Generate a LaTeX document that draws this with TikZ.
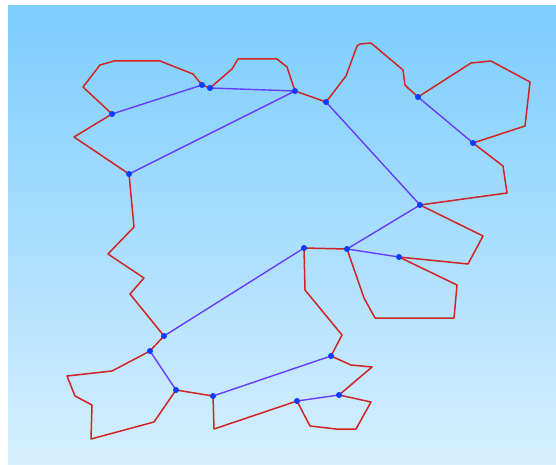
\documentclass[tikz,border=0pt]{standalone}
\definecolor{skytop}{RGB}{124,205,253}
\definecolor{skybot}{RGB}{214,239,255}
\definecolor{border}{RGB}{208,36,36}
\definecolor{link}{RGB}{104,60,255}
\definecolor{dot}{RGB}{10,60,255}
\tikzset{
  vertex/.style={circle,fill=dot,inner sep=0pt,minimum size=6pt},
  edgeline/.style={draw=border,line width=1.5pt,line join=round},
  linkline/.style={draw=link,line width=1.4pt},
}
\begin{document}
\begin{tikzpicture}[x=1pt,y=-1pt]
  \useasboundingbox (0,0) rectangle (556,465);
  \fill[white] (0,0) rectangle (556,465);
  \shade[top color=skytop,bottom color=skybot] (8,6) rectangle (556,465);

  % junction points
  \coordinate (A) at (112,114);
  \coordinate (B) at (202,85);
  \coordinate (C) at (210,88);
  \coordinate (D) at (129,174);
  \coordinate (E) at (295,91);
  \coordinate (F) at (326,102);
  \coordinate (G) at (418,97);
  \coordinate (H) at (473,143);
  \coordinate (I) at (420,205);
  \coordinate (J) at (304,248);
  \coordinate (K) at (347,249);
  \coordinate (L) at (399,257);
  \coordinate (M) at (331,356);
  \coordinate (N) at (339,395);
  \coordinate (O) at (297,401);
  \coordinate (P) at (213,396);
  \coordinate (Q) at (164,336);
  \coordinate (R) at (150,351);
  \coordinate (S) at (176,390);

  % region boundaries
  \path[edgeline] (A) -- (83,87) -- (100,65) -- (114,61) -- (160,61) -- (193,74) -- (B);
  \path[edgeline] (B) -- (C);
  \path[edgeline] (C) -- (232,69) -- (238,59) -- (277,59) -- (287,67) -- (E);
  \path[edgeline] (E) -- (F);
  \path[edgeline] (A) -- (74,137) -- (D);
  \path[edgeline] (F) -- (346,76) -- (357,46) -- (360,44) -- (371,43) -- (403,70) -- (405,85) -- (408,88) -- (G);
  \path[edgeline] (G) -- (471,63) -- (491,61) -- (530,82) -- (525,126) -- (H);
  \path[edgeline] (H) -- (503,166) -- (507,193) -- (I);
  \path[edgeline] (I) -- (483,236) -- (468,264) -- (L);
  \path[edgeline] (L) -- (457,285) -- (454,318) -- (375,318) -- (364,298) -- (K);
  \path[edgeline] (K) -- (J);
  \path[edgeline] (J) -- (305,290) -- (342,335) -- (M);
  \path[edgeline] (M) -- (351,365) -- (372,367) -- (N);
  \path[edgeline] (N) -- (371,402) -- (356,429) -- (336,429) -- (310,426) -- (O);
  \path[edgeline] (O) -- (214,429) -- (P);
  \path[edgeline] (P) -- (S);
  \path[edgeline] (S) -- (154,422) -- (91,439) -- (92,405) -- (75,396) -- (67,376) -- (112,371) -- (R);
  \path[edgeline] (R) -- (Q);
  \path[edgeline] (Q) -- (130,294) -- (144,278) -- (108,254) -- (134,227) -- (D);

  % adjacency links
  \path[linkline] (A) -- (B);
  \path[linkline] (C) -- (E);
  \path[linkline] (E) -- (D);
  \path[linkline] (F) -- (I);
  \path[linkline] (G) -- (H);
  \path[linkline] (I) -- (K);
  \path[linkline] (K) -- (L);
  \path[linkline] (J) -- (Q);
  \path[linkline] (R) -- (S);
  \path[linkline] (P) -- (M);
  \path[linkline] (O) -- (N);

  % vertex markers
  \foreach \v in {A,B,C,D,E,F,G,H,I,J,K,L,M,N,O,P,Q,R,S}
    \node[vertex] (dot\v) at (\v) {};
\end{tikzpicture}
\end{document}
